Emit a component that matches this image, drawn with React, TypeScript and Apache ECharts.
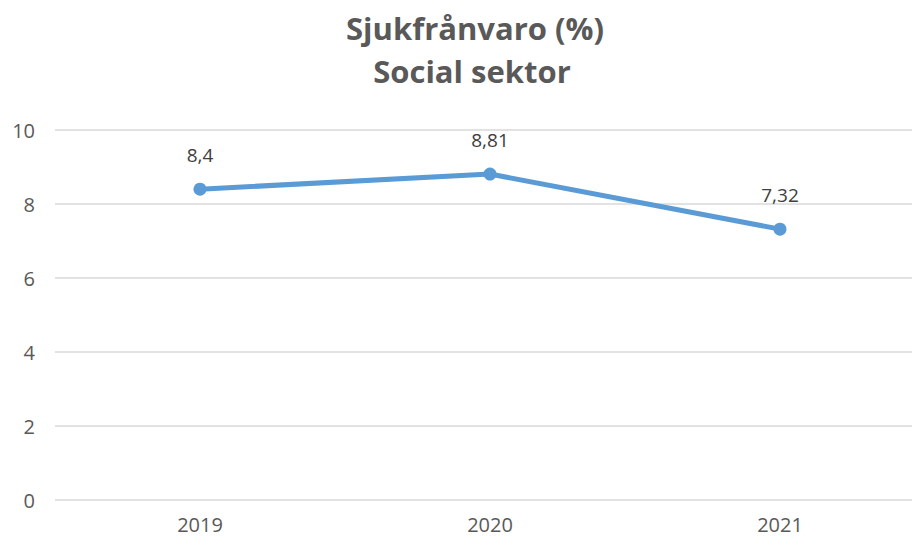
import React, { useEffect, useRef } from "react";
import * as echarts from "echarts";

const categories = ["2019", "2020", "2021"];
const values = [8.4, 8.81, 7.32];
const valueLabels = ["8,4", "8,81", "7,32"];
const titleLines = ["Sjukfrånvaro (%)", "Social sektor"];

export default function App() {
  const ref = useRef<HTMLDivElement>(null);
  useEffect(() => {
    if (!ref.current) return;
    const chart = echarts.init(ref.current, null, { renderer: "svg" });
    const titleFont = { fontFamily: "Open Sans", fontWeight: "bold", fontSize: 31, fill: "#595959" };
    chart.setOption({
      animation: false,
      backgroundColor: "#ffffff",
      graphic: [
        {
          type: "text",
          x: 475,
          y: 28,
          style: { ...titleFont, text: titleLines[0], textAlign: "center", textVerticalAlign: "middle" },
        },
        {
          type: "text",
          x: 472,
          y: 71,
          style: { ...titleFont, text: titleLines[1], textAlign: "center", textVerticalAlign: "middle" },
        },
      ],
      grid: { left: 55, right: 5, top: 130, bottom: 40, containLabel: false },
      xAxis: {
        type: "category",
        data: categories,
        boundaryGap: true,
        axisLine: { show: false },
        axisTick: { show: false },
        axisLabel: { color: "#595959", fontSize: 20, fontFamily: "Open Sans", margin: 14 },
      },
      yAxis: {
        type: "value",
        min: 0,
        max: 10,
        interval: 2,
        axisLine: { show: false },
        axisTick: { show: false },
        axisLabel: { color: "#595959", fontSize: 20, fontFamily: "Open Sans", margin: 20 },
        splitLine: { lineStyle: { color: "#d9d9d9", width: 1.5 } },
      },
      series: [
        {
          type: "line",
          data: values,
          symbol: "circle",
          symbolSize: 13,
          lineStyle: { color: "#5B9BD5", width: 5 },
          itemStyle: { color: "#5B9BD5" },
          label: {
            show: true,
            position: "top",
            distance: 18,
            color: "#404040",
            fontSize: 19,
            fontFamily: "Open Sans",
            formatter: (p: any) => valueLabels[p.dataIndex],
          },
        },
      ],
    });
    return () => chart.dispose();
  }, []);
  return <div ref={ref} style={{ width: 930, height: 540, position: "fixed", left: 0, top: 0 }} />;
}
